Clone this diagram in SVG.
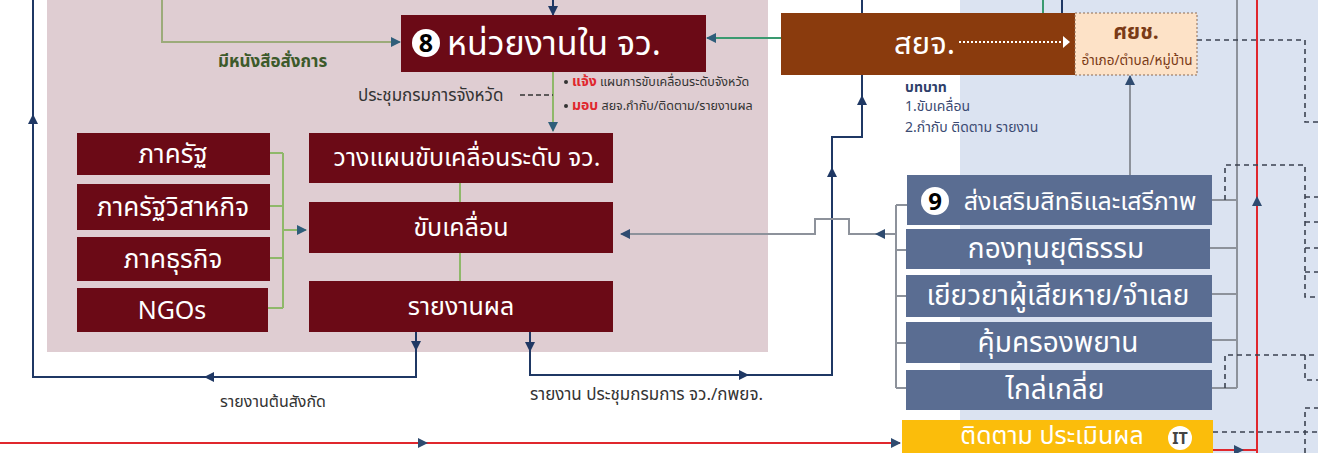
<svg xmlns="http://www.w3.org/2000/svg" width="1318" height="453" viewBox="0 0 1318 453">
<defs>
<style>
.t{font-family:"Noto Sans Thai","Noto Sans","Liberation Sans",sans-serif}
.w{fill:#ffffff}
.mar{fill:#6b0a16}
.sb{fill:#5a6d92}
.dl{fill:none;stroke:#1f3864;stroke-width:2}
.gl{fill:none;stroke:#8fb86a;stroke-width:2}
.gy{fill:none;stroke:#8d929b;stroke-width:2}
.rd{fill:none;stroke:#e0272d;stroke-width:2}
.ds{fill:none;stroke:#3b4250;stroke-width:1.6;stroke-dasharray:5 4}
.lab{font-size:17px;fill:#333333}
.bt{font-size:25px;fill:#ffffff;text-anchor:middle}
.lb{font-size:26px}
.bb{font-size:28px}
</style>
<marker id="ab" viewBox="0 0 10 10" refX="9" refY="5" markerWidth="5" markerHeight="5" orient="auto"><path d="M0,0 L10,5 L0,10 z" fill="#1f3864"/></marker>
<marker id="ag" viewBox="0 0 10 10" refX="9" refY="5" markerWidth="5" markerHeight="5" orient="auto"><path d="M0,0 L10,5 L0,10 z" fill="#2f5e7a"/></marker>
<marker id="ay" viewBox="0 0 10 10" refX="9" refY="5" markerWidth="5" markerHeight="5" orient="auto"><path d="M0,0 L10,5 L0,10 z" fill="#2f4b70"/></marker>
</defs>

<!-- backgrounds -->
<rect x="0" y="0" width="1318" height="453" fill="#ffffff"/>
<rect x="960" y="0" width="358" height="453" fill="#dbe3f1"/>
<rect x="47" y="0" width="721" height="352" fill="#dfcdd2"/>

<!-- connectors -->
<g id="connectors">
  <path class="dl" d="M416,332 V377 H33 V0"/>
  <path class="dl" d="M416,332 V350" marker-end="url(#ab)"/>
  <path class="dl" d="M300,377 H205" marker-end="url(#ab)"/>
  <path class="dl" d="M33,200 V115" marker-end="url(#ab)"/>
  <path class="dl" d="M530,332 V375 H832 V137 H862 V75"/>
  <path class="dl" d="M530,332 V351" marker-end="url(#ab)"/>
  <path class="dl" d="M700,375 H748" marker-end="url(#ab)"/>
  <path class="dl" d="M832,200 V168" marker-end="url(#ab)"/>
  <path class="dl" d="M862,120 V96" marker-end="url(#ab)"/>
  <path class="dl" d="M862,0 V13"/>
  <path class="dl" d="M1062,0 V13"/>
  <path d="M1043,0 V13" fill="none" stroke="#3a9a70" stroke-width="2"/>
  <path class="dl" d="M553,0 V15" marker-end="url(#ab)"/>
  <path d="M162,0 V42 H400" fill="none" stroke="#9cab7a" stroke-width="2" marker-end="url(#ag)"/>
  <path d="M781,38 H707" fill="none" stroke="#3a9a70" stroke-width="2" marker-end="url(#ag)"/>
  <path class="gl" d="M553,72 V131" marker-end="url(#ag)"/>
  <path d="M520,95 H553" fill="none" stroke="#333" stroke-width="1.5" stroke-dasharray="5 3"/>
  <path class="gl" d="M460,183 V202 M460,253 V281"/>
  <path class="gl" d="M270,153 H283 M270,206 H283 M270,258 H283 M268,308 H283 M283,153 V308"/>
  <path class="gl" d="M283,230 H306" marker-end="url(#ag)"/>
  <path class="gy" d="M907,205 H896 M906,250 H896 M906,296 H896 M906,343 H896 M906,388 H896 M896,205 V388"/>
  <path class="gy" d="M896,234 H849 V219 H815 V234 H621" marker-end="url(#ay)"/>
  <path class="gy" d="M896,234 H876" marker-end="url(#ay)"/>
  <path class="gy" d="M1237,0 V388 M1212,200 H1237 M1210,248 H1237 M1212,294 H1237 M1212,340 H1237 M1212,388 H1237"/>
  <path class="gy" d="M1130,175 V76" marker-end="url(#ay)"/>
  <path class="rd" d="M0,443 H900"/>
  <path class="rd" d="M380,443 H427" marker-end="url(#ay)"/>
  <path class="rd" d="M860,443 H900" marker-end="url(#ay)"/>
  <path class="rd" d="M1257,0 V453"/>
  <path class="rd" d="M1257,240 V197" marker-end="url(#ay)"/>
  <path class="rd" d="M1213,450 H1257"/>
  <path class="rd" d="M1213,450 H1243" marker-end="url(#ay)"/>
  <path class="ds" d="M1197,40 H1305 V122 H1318"/>
  <path class="ds" d="M1225,200 V165 H1305 V297 H1318 M1305,197 H1318 M1305,222 H1318 M1305,248 H1318 M1305,272 H1318"/>
  <path class="ds" d="M1225,388 V355 H1318 M1305,355 V380 H1318"/>
  <path class="ds" d="M1305,453 V408 H1318"/>
  <path class="ds" d="M1213,432 H1318"/>
</g>

<!-- labels -->
<g id="labels" class="t">
  <text x="218" y="67" font-size="17" fill="#3c5a2a" font-weight="bold">มีหนังสือสั่งการ</text>
  <text x="358" y="101" class="lab">ประชุมกรมการจังหวัด</text>
  <circle cx="566" cy="82" r="2" fill="#333"/>
  <text x="572" y="86" font-size="12.5" fill="#333"><tspan fill="#e0272d" font-weight="bold" font-size="14">แจ้ง</tspan> แผนการขับเคลื่อนระดับจังหวัด</text>
  <circle cx="566" cy="106" r="2" fill="#333"/>
  <text x="572" y="110" font-size="12.5" fill="#333"><tspan fill="#e0272d" font-weight="bold" font-size="14">มอบ</tspan> สยจ.กำกับ/ติดตาม/รายงานผล</text>
  <text x="905" y="92" font-size="14" fill="#2f3f6a" font-weight="bold">บทบาท</text>
  <text x="905" y="111" font-size="14" fill="#3b4a72">1.ขับเคลื่อน</text>
  <text x="905" y="132" font-size="14" fill="#3b4a72">2.กำกับ ติดตาม รายงาน</text>
  <text x="220" y="407" font-size="16" fill="#333">รายงานต้นสังกัด</text>
  <text x="530" y="400" class="lab">รายงาน ประชุมกรมการ จว./กพยจ.</text>
</g>

<!-- node 8 -->
<g id="n8">
  <rect x="401" y="15" width="305" height="57" class="mar"/>
  <circle cx="426" cy="43" r="14" fill="#ffffff"/>
  <text x="426" y="52" font-size="25" font-weight="bold" fill="#000" text-anchor="middle" class="t">8</text>
  <text x="447" y="55" font-size="34" class="t w">หน่วยงานใน จว.</text>
</g>

<!-- สยจ -->
<g id="syj">
  <rect x="781" y="13" width="294" height="62" fill="#8a3b0d"/>
  <text x="955" y="54" font-size="31" class="t w" text-anchor="end">สยจ.</text>
  <path d="M959,42 H1063" fill="none" stroke="#ffffff" stroke-width="2" stroke-dasharray="2 2"/>
  <path d="M1063,36 L1070,42 L1063,48 z" fill="#ffffff"/>
</g>
<g id="syc">
  <rect x="1075" y="13" width="122" height="62" fill="#fde2c7" stroke="#8b6a55" stroke-width="1" stroke-dasharray="2 2"/>
  <text x="1136" y="39" font-size="21" font-weight="bold" fill="#7a3a16" text-anchor="middle" class="t">ศยช.</text>
  <text x="1137" y="65" font-size="13.5" fill="#7a3a16" text-anchor="middle" class="t">อำเภอ/ตำบล/หมู่บ้าน</text>
</g>

<!-- left sector boxes -->
<g id="gov"><rect x="77" y="133" width="193" height="42" class="mar"/><text x="173" y="163" class="t bt lb">ภาครัฐ</text></g>
<g id="soe"><rect x="77" y="184" width="193" height="46" class="mar"/><text x="173" y="216" class="t bt lb">ภาครัฐวิสาหกิจ</text></g>
<g id="biz"><rect x="77" y="237" width="193" height="44" class="mar"/><text x="173" y="268" class="t bt lb">ภาคธุรกิจ</text></g>
<g id="ngo"><rect x="77" y="288" width="191" height="44" class="mar"/><text x="172" y="319" class="t bt">NGOs</text></g>

<!-- middle boxes -->
<g id="plan"><rect x="309" y="133" width="304" height="50" class="mar"/><text x="467" y="166" class="t bt">วางแผนขับเคลื่อนระดับ จว.</text></g>
<g id="drive"><rect x="309" y="202" width="304" height="51" class="mar"/><text x="461" y="236" class="t bt">ขับเคลื่อน</text></g>
<g id="report"><rect x="309" y="281" width="304" height="51" class="mar"/><text x="461" y="315" class="t bt">รายงานผล</text></g>

<!-- blue boxes -->
<g id="n9">
  <rect x="907" y="175" width="305" height="50" class="sb"/>
  <circle cx="935" cy="201" r="14" fill="#ffffff"/>
  <text x="935" y="210" font-size="24" font-weight="bold" fill="#000" text-anchor="middle" class="t">9</text>
  <text x="1080" y="210" class="t bt" font-size="25">ส่งเสริมสิทธิและเสรีภาพ</text>
</g>
<g id="fund"><rect x="906" y="229" width="304" height="40" class="sb"/><text x="1056" y="258" class="t bt bb">กองทุนยุติธรรม</text></g>
<g id="remedy"><rect x="906" y="275" width="306" height="42" class="sb"/><text x="1058" y="305" class="t bt bb">เยียวยาผู้เสียหาย/จำเลย</text></g>
<g id="witness"><rect x="906" y="322" width="306" height="41" class="sb"/><text x="1058" y="352" class="t bt bb">คุ้มครองพยาน</text></g>
<g id="mediate"><rect x="906" y="370" width="306" height="40" class="sb"/><text x="1055" y="399" class="t bt bb">ไกล่เกลี่ย</text></g>

<!-- yellow -->
<g id="monitor">
  <rect x="902" y="420" width="311" height="40" fill="#fbbd0b"/>
  <text x="1052" y="444" class="t bt" font-size="21">ติดตาม ประเมินผล</text>
  <circle cx="1180" cy="438" r="12" fill="#ffffff"/>
  <text x="1180" y="444" font-size="16" font-weight="bold" fill="#444" text-anchor="middle" class="t">IT</text>
</g>
</svg>
